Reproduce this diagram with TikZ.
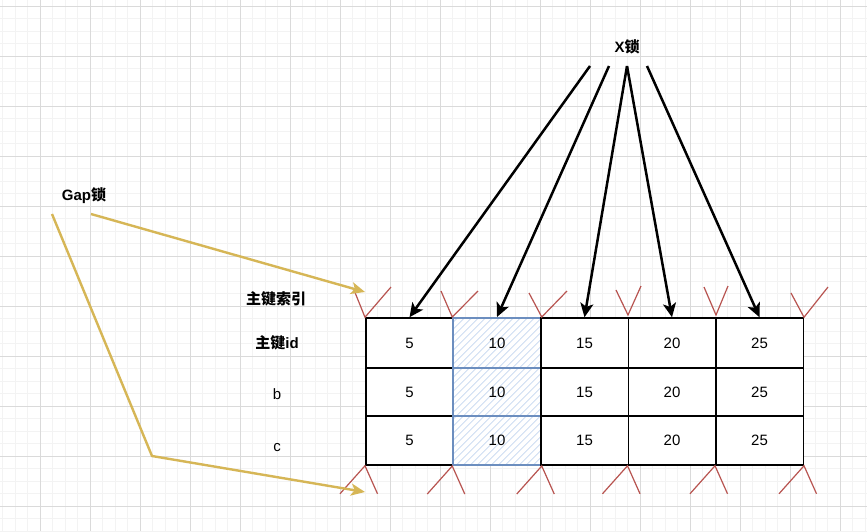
\documentclass[tikz,border=0pt]{standalone}
\usepackage{fontspec}
\setmainfont{Liberation Sans}
\newfontfamily\cjk{Noto Sans CJK SC}
\usetikzlibrary{arrows.meta}
\definecolor{gridmin}{HTML}{F3F3F3}
\definecolor{gridmaj}{HTML}{DADADA}
\definecolor{gold}{HTML}{D6B656}
\definecolor{redv}{HTML}{B85450}
\definecolor{blueb}{HTML}{6C8EBF}
\definecolor{hatchc}{HTML}{C6D8F0}
\begin{document}
\begin{tikzpicture}[x=1pt,y=-1pt,
  txt/.style={inner sep=0pt,font=\fontsize{15}{15}\selectfont},
  btxt/.style={inner sep=0pt,font=\fontsize{15}{15}\selectfont\bfseries},
  cell/.style={draw=black,line width=1.5pt,fill=white,minimum width=87.5pt,inner sep=0pt,font=\fontsize{15}{15}\selectfont},
  r1/.style={minimum height=50pt},
  r2/.style={minimum height=48pt},
  r3/.style={minimum height=49pt},
  bcell/.style={cell,draw=blueb,line width=2pt,
    path picture={\foreach \k in {-60,-53,...,100}{\draw[hatchc,line width=0.7pt] ([xshift=\k]path picture bounding box.south west) -- ++(70,-70);}}},
  xarrow/.style={draw=black,line width=2.5pt,-{Stealth[length=14pt,width=13pt,inset=3.5pt]}},
  garrow/.style={draw=gold,line width=2.4pt,-{Stealth[length=14pt,width=12pt,inset=3.5pt]}},
  vmark/.style={draw=redv,line width=1.2pt}]
\useasboundingbox (0,0) rectangle (867,531);
\fill[white] (0,0) rectangle (867,531);
% grid
\foreach \x in {2.5,15,...,867}{\draw[gridmin,line width=0.8pt] (\x,0) -- (\x,531);}
\foreach \y in {6,18.5,...,531}{\draw[gridmin,line width=0.8pt] (0,\y) -- (867,\y);}
\foreach \x in {40,90,...,867}{\draw[gridmaj,line width=0.9pt] (\x,0) -- (\x,531);}
\foreach \y in {6,56,...,531}{\draw[gridmaj,line width=0.9pt] (0,\y) -- (867,\y);}
% labels
\node[btxt] (xl) at (627,47) {X{\cjk 锁}};
\node[btxt] (gl) at (84,196) {Gap{\cjk 锁}};
\node[btxt] (idx) at (276,299) {\cjk 主键索引};
\node[btxt] (pk) at (277,343) {{\cjk 主键}id};
\node[txt] (lb) at (277,394) {b};
\node[txt] (lc) at (277,448) {c};
% table
\node[cell,r1] (c11) at (409.5,343) {5};
\node[bcell,r1] (c12) at (497,343) {10};
\node[cell,r1] (c13) at (584.5,343) {15};
\node[cell,r1] (c14) at (672,343) {20};
\node[cell,r1] (c15) at (759.5,343) {25};
\node[cell,r2] (c21) at (409.5,392) {5};
\node[bcell,r2] (c22) at (497,392) {10};
\node[cell,r2] (c23) at (584.5,392) {15};
\node[cell,r2] (c24) at (672,392) {20};
\node[cell,r2] (c25) at (759.5,392) {25};
\node[cell,r3] (c31) at (409.5,440.5) {5};
\node[bcell,r3] (c32) at (497,440.5) {10};
\node[cell,r3] (c33) at (584.5,440.5) {15};
\node[cell,r3] (c34) at (672,440.5) {20};
\node[cell,r3] (c35) at (759.5,440.5) {25};
% red marks top
\draw[vmark] (354,290) -- (c11.north west) -- (391,287);
\draw[vmark] (441,291) -- (c12.north west) -- (478,291);
\draw[vmark] (529,293) -- (c12.north east) -- (567,291);
\draw[vmark] (616,290) -- (628,315) -- (641,286);
\draw[vmark] (704,287) -- (716,315) -- (728,286);
\draw[vmark] (791,293) -- (c15.north east) -- (828,287);
% red marks bottom
\foreach \a in {c31.south west,c32.south west,c32.south east,c34.south west,c35.south west,c35.south east}{
  \draw[vmark] ([xshift=-25pt,yshift=-28pt]\a) -- (\a) -- ([xshift=12.5pt,yshift=-28pt]\a);}
% X lock arrows
\coordinate (x1) at (590,66);
\coordinate (x2) at (609,66);
\coordinate (x3) at (627,66);
\coordinate (x5) at (647,66);
\draw[xarrow] (x1) -- (c11.north);
\draw[xarrow] (x2) -- (c12.north);
\draw[xarrow] (x3) -- (c13.north);
\draw[xarrow] (x3) -- (c14.north);
\draw[xarrow] (x5) -- (c15.north);
% gap lock arrows
\coordinate (g1) at (91,214);
\coordinate (g1e) at (365,292);
\coordinate (g2) at (52,214);
\coordinate (g2m) at (152,456);
\coordinate (g2e) at (365,492);
\draw[garrow] (g1) -- (g1e);
\draw[garrow] (g2) -- (g2m) -- (g2e);
\end{tikzpicture}
\end{document}
